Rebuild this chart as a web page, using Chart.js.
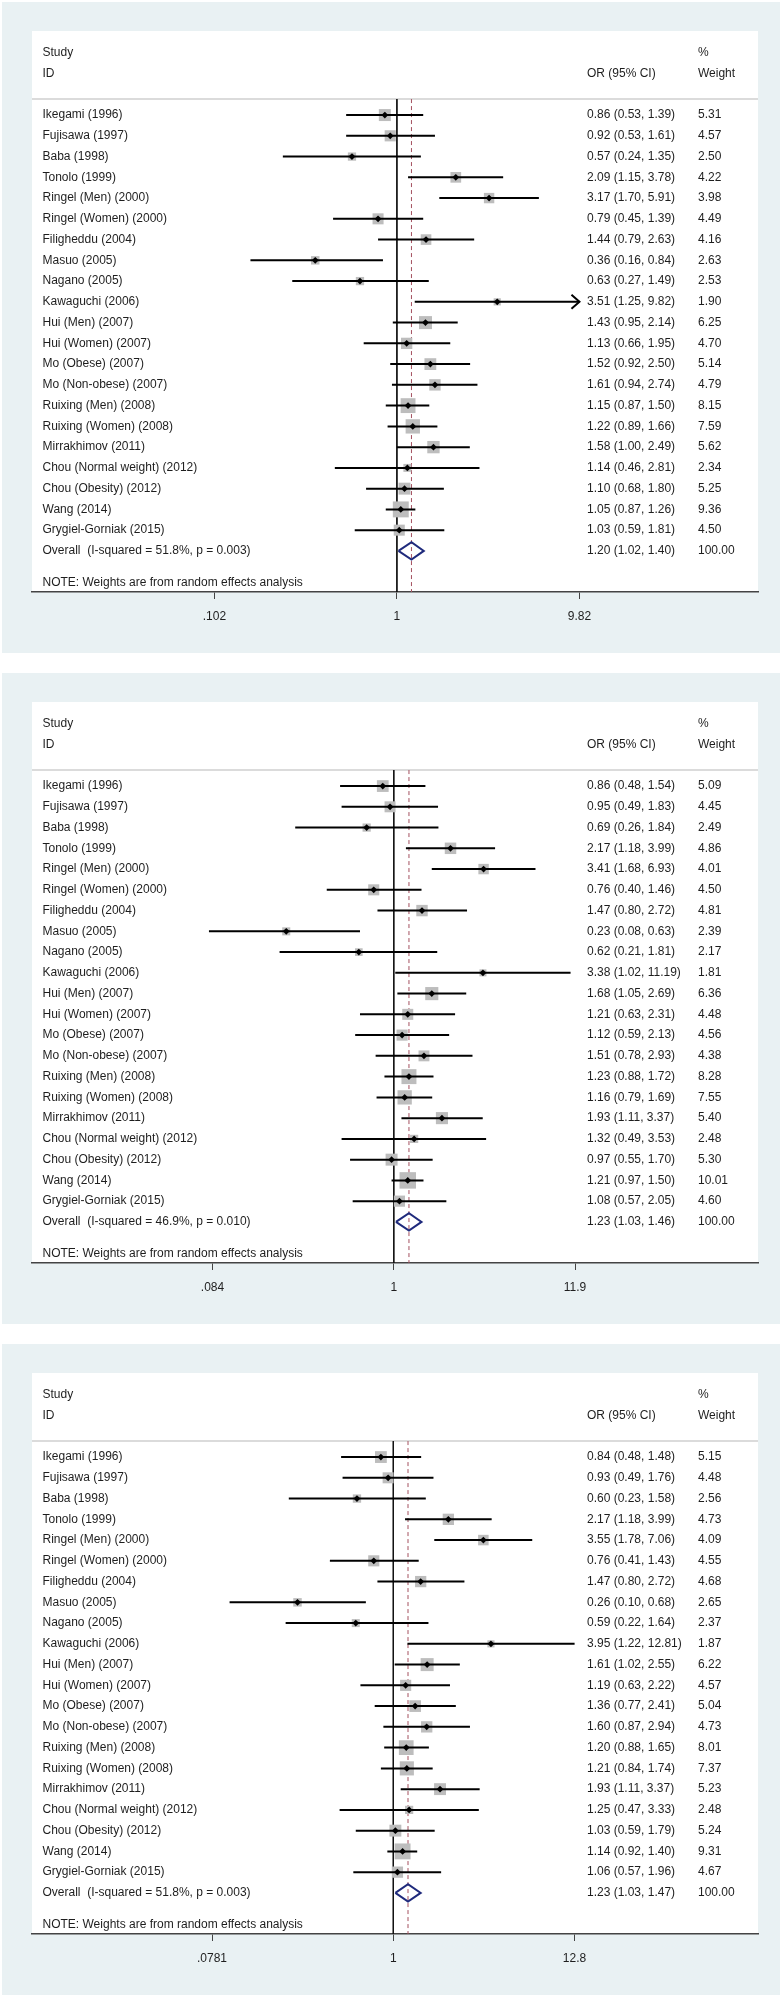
<!DOCTYPE html>
<html>
<head>
<meta charset="utf-8">
<script src="https://cdn.jsdelivr.net/npm/chart.js@4.4.1/dist/chart.umd.min.js"></script>
<style>
  html, body { margin: 0; padding: 0; background: #fff; }
  body { width: 782px; height: 1998px; position: relative; overflow: hidden; }
  .panel { position: absolute; left: 2px; width: 778px; height: 651px; background: #e9f1f3; }
  canvas { display: block; }
</style>
</head>
<body>
<div class="panel" style="top:2px"><canvas id="p1" width="778" height="651"></canvas></div>
<div class="panel" style="top:673px"><canvas id="p2" width="778" height="651"></canvas></div>
<div class="panel" style="top:1344px"><canvas id="p3" width="778" height="651"></canvas></div>
<script>
const studies = [
  'Ikegami (1996)', 'Fujisawa (1997)', 'Baba (1998)', 'Tonolo (1999)',
  'Ringel (Men) (2000)', 'Ringel (Women) (2000)', 'Filigheddu (2004)',
  'Masuo (2005)', 'Nagano (2005)', 'Kawaguchi (2006)', 'Hui (Men) (2007)',
  'Hui (Women) (2007)', 'Mo (Obese) (2007)', 'Mo (Non-obese) (2007)',
  'Ruixing (Men) (2008)', 'Ruixing (Women) (2008)', 'Mirrakhimov (2011)',
  'Chou (Normal weight) (2012)', 'Chou (Obesity) (2012)', 'Wang (2014)',
  'Grygiel-Gorniak (2015)'
];

// panel 1
const or1 = [0.86, 0.92, 0.57, 2.09, 3.17, 0.79, 1.44, 0.36, 0.63, 3.51, 1.43, 1.13, 1.52, 1.61, 1.15, 1.22, 1.58, 1.14, 1.10, 1.05, 1.03];
const lo1 = [0.53, 0.53, 0.24, 1.15, 1.70, 0.45, 0.79, 0.16, 0.27, 1.25, 0.95, 0.66, 0.92, 0.94, 0.87, 0.89, 1.00, 0.46, 0.68, 0.87, 0.59];
const hi1 = [1.39, 1.61, 1.35, 3.78, 5.91, 1.39, 2.63, 0.84, 1.49, 9.82, 2.14, 1.95, 2.50, 2.74, 1.50, 1.66, 2.49, 2.81, 1.80, 1.26, 1.81];
const wt1 = [5.31, 4.57, 2.50, 4.22, 3.98, 4.49, 4.16, 2.63, 2.53, 1.90, 6.25, 4.70, 5.14, 4.79, 8.15, 7.59, 5.62, 2.34, 5.25, 9.36, 4.50];

// panel 2
const or2 = [0.86, 0.95, 0.69, 2.17, 3.41, 0.76, 1.47, 0.23, 0.62, 3.38, 1.68, 1.21, 1.12, 1.51, 1.23, 1.16, 1.93, 1.32, 0.97, 1.21, 1.08];
const lo2 = [0.48, 0.49, 0.26, 1.18, 1.68, 0.40, 0.80, 0.08, 0.21, 1.02, 1.05, 0.63, 0.59, 0.78, 0.88, 0.79, 1.11, 0.49, 0.55, 0.97, 0.57];
const hi2 = [1.54, 1.83, 1.84, 3.99, 6.93, 1.46, 2.72, 0.63, 1.81, 11.19, 2.69, 2.31, 2.13, 2.93, 1.72, 1.69, 3.37, 3.53, 1.70, 1.50, 2.05];
const wt2 = [5.09, 4.45, 2.49, 4.86, 4.01, 4.50, 4.81, 2.39, 2.17, 1.81, 6.36, 4.48, 4.56, 4.38, 8.28, 7.55, 5.40, 2.48, 5.30, 10.01, 4.60];

// panel 3
const or3 = [0.84, 0.93, 0.60, 2.17, 3.55, 0.76, 1.47, 0.26, 0.59, 3.95, 1.61, 1.19, 1.36, 1.60, 1.20, 1.21, 1.93, 1.25, 1.03, 1.14, 1.06];
const lo3 = [0.48, 0.49, 0.23, 1.18, 1.78, 0.41, 0.80, 0.10, 0.22, 1.22, 1.02, 0.63, 0.77, 0.87, 0.88, 0.84, 1.11, 0.47, 0.59, 0.92, 0.57];
const hi3 = [1.48, 1.76, 1.58, 3.99, 7.06, 1.43, 2.72, 0.68, 1.64, 12.81, 2.55, 2.22, 2.41, 2.94, 1.65, 1.74, 3.37, 3.33, 1.79, 1.40, 1.96];
const wt3 = [5.15, 4.48, 2.56, 4.73, 4.09, 4.55, 4.68, 2.65, 2.37, 1.87, 6.22, 4.57, 5.04, 4.73, 8.01, 7.37, 5.23, 2.48, 5.24, 9.31, 4.67];

const overallOr = [1.20, 1.23, 1.23];
const overallLo = [1.02, 1.03, 1.03];
const overallHi = [1.40, 1.46, 1.47];
const iSquared = ['51.8', '46.9', '51.8'];
const pValues = ['0.003', '0.010', '0.003'];

const tickVals1 = [0.102, 1, 9.82];
const tickVals2 = [0.084, 1, 11.9];
const tickVals3 = [0.0781, 1, 12.8];
const tickLabels1 = ['.102', '1', '9.82'];
const tickLabels2 = ['.084', '1', '11.9'];
const tickLabels3 = ['.0781', '1', '12.8'];

const FONT_FAMILY = '"Liberation Sans", Arial, sans-serif';
const TXT = '#1e1e1e';
const SEP = -0.77, Y_MIN = -4.05, Y_MAX = 22.98;
const OVERALL_ROW = studies.length;

function makePanel(id, p) {
  const rows = studies.map((s, i) => i);
  const ctx = document.getElementById(id).getContext('2d');

  // CI segments in one line dataset, broken by null points
  const ciData = [];
  rows.forEach(i => {
    ciData.push({ x: p.lo[i], y: i }, { x: p.hi[i], y: i }, { x: null, y: null });
  });

  const textPlugin = {
    id: 'forestText',
    beforeDraw(chart) {
      const { ctx, chartArea: a } = chart;
      ctx.save();
      ctx.fillStyle = '#fff';
      ctx.fillRect(a.left, a.top, a.right - a.left, a.bottom - a.top);
      ctx.restore();
    },
    beforeDatasetsDraw(chart) {
      const { ctx, chartArea: a, scales: { y } } = chart;
      ctx.save();
      ctx.strokeStyle = '#cfcfcf';
      ctx.lineWidth = 1.5;
      ctx.beginPath();
      ctx.moveTo(a.left, y.getPixelForValue(SEP));
      ctx.lineTo(a.right, y.getPixelForValue(SEP));
      ctx.stroke();
      ctx.restore();
    },
    afterDatasetsDraw(chart) {
      const { ctx, chartArea: a, scales: { x, y } } = chart;
      const colStudy = a.left + 10.5, colOr = 555 + a.left, colWt = 666 + a.left;
      ctx.save();
      ctx.font = '12px ' + FONT_FAMILY;
      ctx.fillStyle = TXT;
      ctx.textBaseline = 'middle';
      ctx.textAlign = 'left';
      ctx.fillText('Study', colStudy, y.getPixelForValue(-3));
      ctx.fillText('ID', colStudy, y.getPixelForValue(-2));
      ctx.fillText('OR (95% CI)', colOr, y.getPixelForValue(-2));
      ctx.fillText('%', colWt, y.getPixelForValue(-3));
      ctx.fillText('Weight', colWt, y.getPixelForValue(-2));
      rows.forEach(i => {
        const py = y.getPixelForValue(i);
        ctx.fillText(studies[i], colStudy, py);
        ctx.fillText(`${p.or[i].toFixed(2)} (${p.lo[i].toFixed(2)}, ${p.hi[i].toFixed(2)})`, colOr, py);
        ctx.fillText(p.wt[i].toFixed(2), colWt, py);
      });
      const oy = y.getPixelForValue(OVERALL_ROW);
      ctx.fillText(`Overall  (I-squared = ${p.i2}%, p = ${p.pv})`, colStudy, oy);
      ctx.fillText(`${p.ovOr.toFixed(2)} (${p.ovLo.toFixed(2)}, ${p.ovHi.toFixed(2)})`, colOr, oy);
      ctx.fillText('100.00', colWt, oy);
      ctx.fillText('NOTE: Weights are from random effects analysis', colStudy, y.getPixelForValue(22.54));

      // arrow for a CI clipped at the axis limit
      (p.arrows || []).forEach(i => {
        const px = x.getPixelForValue(p.hi[i]), py = y.getPixelForValue(i);
        ctx.strokeStyle = '#000';
        ctx.lineWidth = 2;
        ctx.beginPath();
        ctx.moveTo(px - 8, py - 7);
        ctx.lineTo(px, py);
        ctx.lineTo(px - 8, py + 7);
        ctx.stroke();
      });
      ctx.restore();
    }
  };

  new Chart(ctx, {
    type: 'scatter',
    data: {
      datasets: [
        {
          showLine: true, order: 6,
          data: [{ x: 1, y: SEP }, { x: 1, y: Y_MAX }],
          borderColor: '#111', borderWidth: 1, pointRadius: 0
        },
        {
          showLine: true, order: 5,
          data: [{ x: p.ovOr, y: SEP }, { x: p.ovOr, y: Y_MAX }],
          borderColor: '#a4505f', borderWidth: 1, borderDash: [4, 3], pointRadius: 0
        },
        {
          order: 4,
          data: rows.map(i => ({ x: p.or[i], y: i })),
          pointStyle: 'rect',
          pointRadius: p.wt.map(w => 3.68 * Math.sqrt(w)),
          backgroundColor: '#bdbdbd', borderWidth: 0
        },
        {
          showLine: true, spanGaps: false, order: 3,
          data: ciData,
          borderColor: '#000', borderWidth: 2, borderCapStyle: 'butt', pointRadius: 0
        },
        {
          order: 2,
          data: rows.map(i => ({ x: p.or[i], y: i })),
          pointStyle: 'rectRot', pointRadius: 3.4,
          backgroundColor: '#000', borderWidth: 0
        },
        {
          showLine: true, order: 1,
          data: [
            { x: p.ovLo, y: OVERALL_ROW }, { x: p.ovOr, y: OVERALL_ROW - 0.42 },
            { x: p.ovHi, y: OVERALL_ROW }, { x: p.ovOr, y: OVERALL_ROW + 0.42 },
            { x: p.ovLo, y: OVERALL_ROW }
          ],
          borderColor: '#1f2a7c', borderWidth: 2, pointRadius: 0, fill: false, tension: 0
        }
      ]
    },
    options: {
      responsive: false,
      animation: false,
      devicePixelRatio: 1,
      layout: { padding: { top: 29, left: 30, right: 22, bottom: 0 } },
      plugins: { legend: { display: false }, tooltip: { enabled: false } },
      scales: {
        x: {
          type: 'logarithmic',
          min: p.xMin, max: p.xMax, offset: false, bounds: 'data',
          afterBuildTicks: s => { s.ticks = p.ticks.map(v => ({ value: v })); },
          afterFit: s => { s.height = 61; },
          ticks: {
            autoSkip: false, maxRotation: 0, padding: 10,
            color: TXT, font: { family: FONT_FAMILY, size: 12 },
            callback: (v, i) => p.labels[i]
          },
          grid: { drawOnChartArea: false, drawTicks: true, tickLength: 7, color: '#444', tickWidth: 1 },
          border: { display: true, color: '#444', width: 1.5 }
        },
        y: {
          type: 'linear', reverse: true, min: Y_MIN, max: Y_MAX,
          offset: false, bounds: 'data', display: false
        }
      }
    },
    plugins: [textPlugin]
  });
}

makePanel('p1', {
  or: or1, lo: lo1, hi: hi1, wt: wt1,
  ovOr: overallOr[0], ovLo: overallLo[0], ovHi: overallHi[0], i2: iSquared[0], pv: pValues[0],
  ticks: tickVals1, labels: tickLabels1, xMin: 0.0104, xMax: 91.7, arrows: [9]
});
makePanel('p2', {
  or: or2, lo: lo2, hi: hi2, wt: wt2,
  ovOr: overallOr[1], ovLo: overallLo[1], ovHi: overallHi[1], i2: iSquared[1], pv: pValues[1],
  ticks: tickVals2, labels: tickLabels2, xMin: 0.00713, xMax: 144.9
});
makePanel('p3', {
  or: or3, lo: lo3, hi: hi3, wt: wt3,
  ovOr: overallOr[2], ovLo: overallLo[2], ovHi: overallHi[2], i2: iSquared[2], pv: pValues[2],
  ticks: tickVals3, labels: tickLabels3, xMin: 0.00621, xMax: 169
});
</script>
</body>
</html>
